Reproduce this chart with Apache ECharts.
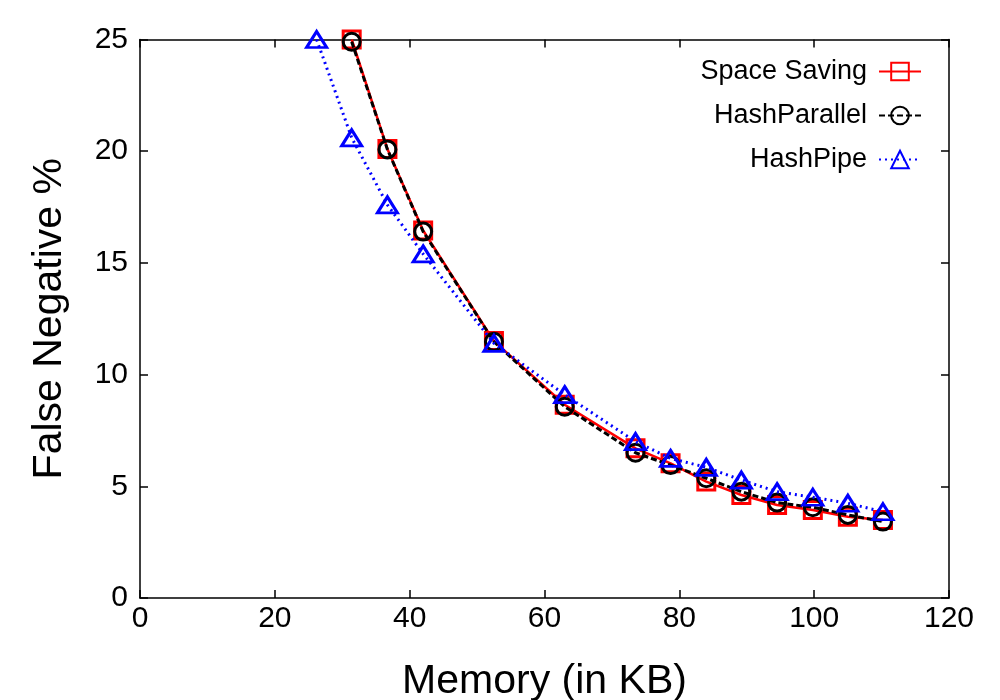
<!DOCTYPE html>
<html><head><meta charset="utf-8">
<script src="https://cdn.jsdelivr.net/npm/echarts@6/dist/echarts.min.js"></script>
<style>html,body{margin:0;padding:0;background:#fff}#c{width:1000px;height:700px}</style>
</head><body><div id="c"></div>
<script>
const memoryHP = [26.2, 31.4, 36.7, 42.0, 52.5, 63.0, 73.5, 78.7, 84.0, 89.2, 94.5, 99.8, 105.0, 110.2];
const memory = [31.4, 36.7, 42.0, 52.5, 63.0, 73.5, 78.7, 84.0, 89.2, 94.5, 99.8, 105.0, 110.2];
const spaceSaving = [25.0, 20.1, 16.45, 11.5, 8.65, 6.7, 6.03, 5.21, 4.61, 4.16, 3.94, 3.64, 3.49];
const hashParallel = [24.9, 20.08, 16.4, 11.47, 8.56, 6.5, 5.95, 5.36, 4.76, 4.27, 4.06, 3.72, 3.42];
const hashPipe = [25.0, 20.6, 17.6, 15.4, 11.4, 9.1, 7.0, 6.25, 5.85, 5.28, 4.76, 4.51, 4.24, 3.86];
const xTicks = [0, 20, 40, 60, 80, 100, 120];
const yTicks = [0, 5, 10, 15, 20, 25];
const names = ['Space Saving', 'HashParallel', 'HashPipe'];

const font = 'Liberation Sans, Arial, Helvetica, sans-serif';
const pair = (xs, ys) => xs.map((x, i) => [x, ys[i]]);
const axisCommon = () => ({
  axisLine: {show: true, onZero: false, lineStyle: {color: '#000', width: 1.5}},
  axisTick: {show: true, inside: true, length: 8, lineStyle: {color: '#000', width: 1.5}},
  splitLine: {show: false}
});
const chart = echarts.init(document.getElementById('c'));
chart.setOption({
  animation: false,
  backgroundColor: '#fff',
  grid: {left: 140, right: 51, top: 39.5, bottom: 102, containLabel: false, outerBoundsMode: 'none'},
  legend: {
    data: names, orient: 'vertical', right: 73, top: 53, align: 'right',
    itemWidth: 42, itemHeight: 22, itemGap: 17,
    textStyle: {fontFamily: font, fontSize: 27, color: '#000', padding: [0, 7, 0, 0]}
  },
  xAxis: [
    Object.assign({type: 'value', min: 0, max: 120, interval: 20, position: 'bottom',
      name: 'Memory (in KB)', nameLocation: 'middle', nameGap: 63,
      nameTextStyle: {fontFamily: font, fontSize: 41, color: '#000'},
      axisLabel: {fontFamily: font, fontSize: 30, color: '#000', margin: 6,
        formatter: v => xTicks.includes(v) ? String(v) : ''}}, axisCommon()),
    Object.assign({type: 'value', min: 0, max: 120, interval: 20, position: 'top', axisLabel: {show: false}}, axisCommon())
  ],
  yAxis: [
    Object.assign({type: 'value', min: 0, max: 25, interval: 5, position: 'left',
      name: 'False Negative %', nameLocation: 'middle', nameGap: 70,
      nameTextStyle: {fontFamily: font, fontSize: 41, color: '#000'},
      axisLabel: {fontFamily: font, fontSize: 30, color: '#000', margin: 12,
        formatter: v => yTicks.includes(v) ? String(v) : ''}}, axisCommon()),
    Object.assign({type: 'value', min: 0, max: 25, interval: 5, position: 'right', axisLabel: {show: false}}, axisCommon())
  ],
  series: [
    {name: names[0], type: 'line', data: pair(memory, spaceSaving), z: 2,
      symbol: 'rect', symbolSize: 17, showAllSymbol: true,
      lineStyle: {color: '#ff0000', width: 2.5, type: 'solid'},
      itemStyle: {color: 'rgba(0,0,0,0)', borderColor: '#ff0000', borderWidth: 3}},
    {name: names[1], type: 'line', data: pair(memory, hashParallel), z: 3,
      symbol: 'circle', symbolSize: 17, showAllSymbol: true,
      lineStyle: {color: '#000000', width: 3, type: [6, 3]},
      itemStyle: {color: 'rgba(0,0,0,0)', borderColor: '#000000', borderWidth: 3}},
    {name: names[2], type: 'line', data: pair(memoryHP, hashPipe), z: 4,
      symbol: 'triangle', symbolSize: [20, 16], showAllSymbol: true,
      lineStyle: {color: '#0000ff', width: 3, type: [2, 4]},
      itemStyle: {color: 'rgba(0,0,0,0)', borderColor: '#0000ff', borderWidth: 3}}
  ]
});
</script>
</body></html>
